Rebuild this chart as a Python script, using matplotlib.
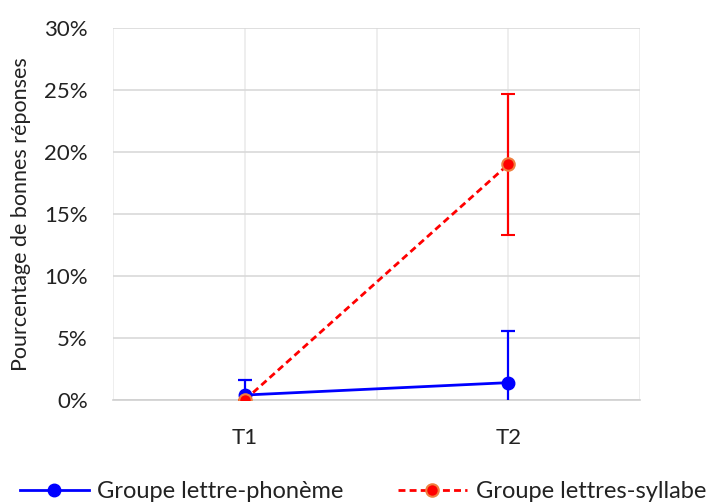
import matplotlib
matplotlib.use("Agg")
import matplotlib.pyplot as plt
from matplotlib.lines import Line2D
import numpy as np

categories = ["T1", "T2"]
phoneme_vals = [0.4, 1.4]
phoneme_err = [1.2, 4.2]
syllabe_vals = [0.0, 19.0]
syllabe_err = [0.0, 5.7]
yticks = [0, 5, 10, 15, 20, 25, 30]

plt.rcParams['font.family'] = ['Lato', 'DejaVu Sans']

fig = plt.figure(figsize=(7.12, 5.04), dpi=100)
ax = fig.add_axes([113/712, 1-400/504, (640-113)/712, (400-28)/504])

x = np.arange(1, len(categories) + 1)

blue_kw = dict(color='#0000FF', lw=2, marker='o', ms=9, mfc='#0000FF', mec='#0000FF')
red_kw = dict(color='#FF0000', lw=2, ls=(0, (2.5, 1.5)), marker='o', ms=9,
              mfc='#FF0000', mec='#F08040', mew=1.5)

ax.errorbar(x, phoneme_vals, yerr=phoneme_err, capsize=5,
            elinewidth=1.6, capthick=1.6, zorder=3, **blue_kw)
ax.errorbar(x, syllabe_vals, yerr=syllabe_err, capsize=5,
            elinewidth=1.6, capthick=1.6, zorder=4, **red_kw)

ax.set_xlim(0.5, 2.5)
ax.set_ylim(0, 30)
ax.set_xticks(x)
ax.set_xticklabels(categories)
ax.set_yticks(yticks)
ax.set_yticklabels([f"{v}%" for v in yticks])
ax.set_xticks([0.5, 1.5, 2.5], minor=True)
ax.grid(axis='y', color='#D9D9D9', lw=1.2)
ax.grid(axis='x', which='both', color='#EBEBEB', lw=1.2)
ax.set_axisbelow(True)
for s in ['top', 'right', 'left']:
    ax.spines[s].set_visible(False)
ax.spines['bottom'].set_color('#D0D0D0')
ax.spines['bottom'].set_linewidth(1.2)
ax.tick_params(length=0, labelsize=16, colors='#222222')
ax.tick_params(axis='y', pad=18)
ax.tick_params(axis='x', which='minor', length=0)
ax.tick_params(axis='x', pad=20)
ax.set_ylabel('Pourcentage de bonnes réponses', fontsize=15.5, color='#222222')
ax.yaxis.set_label_coords(-(113-31)/527, 0.5)

handles = [Line2D([], [], **blue_kw), Line2D([], [], **red_kw)]
labels = ['Groupe lettre-phonème', 'Groupe lettres-syllabe']
fig.legend(handles, labels, loc='center', bbox_to_anchor=(363/712, 1-492/504), ncol=2,
           frameon=False, fontsize=17, handlelength=2.9, columnspacing=2.3,
           handletextpad=0.38, borderpad=0, labelcolor='#222222')

fig.savefig('out.png', dpi=100, facecolor='white')
